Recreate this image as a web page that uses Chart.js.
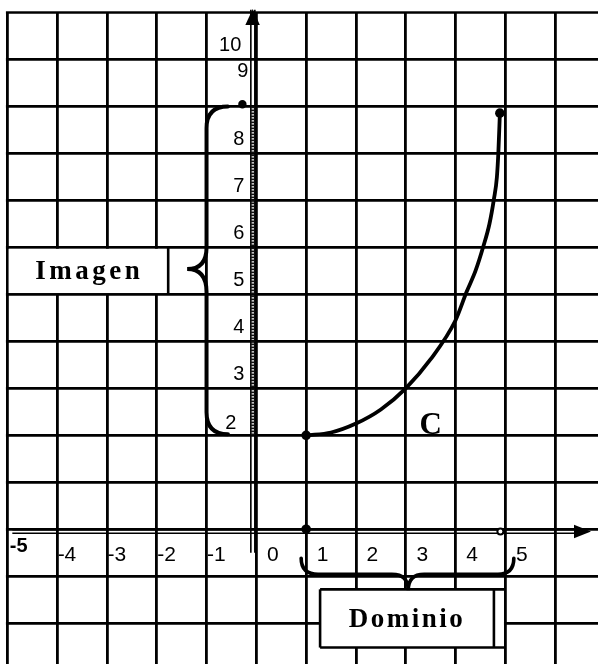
<!DOCTYPE html>
<html>
<head>
<meta charset="utf-8">
<script src="https://cdn.jsdelivr.net/npm/chart.js@4.4.0/dist/chart.umd.min.js"></script>
<style>
  html, body { margin: 0; padding: 0; background: #fff; }
  canvas { display: block; }
</style>
</head>
<body>
<canvas id="grafica" width="598" height="664"></canvas>
<script>
// curva C
var curvaX = [1, 1.5, 2, 2.5, 3, 3.5, 4, 4.22, 4.4, 4.56, 4.68, 4.77, 4.83, 4.86, 4.89];
var curvaY = [2, 2.06, 2.25, 2.55, 3.0, 3.62, 4.45, 5.05, 5.5, 6.03, 6.5, 7.03, 7.5, 8.04, 8.86];

// punto lleno sobre el eje x y marcas de los extremos
var puntoX = [1];
var puntoY = [0];
var abiertoX = [-0.28, 4.9];
var abiertoY = [9.05, -0.05];

// etiquetas de los ejes
var etiquetasX = [-5, -4, -3, -2, -1, 0, 1, 2, 3, 4, 5];
var etiquetasY = [2, 3, 4, 5, 6, 7, 8, 9, 10];

// lineas de la cuadricula
var lineasX = [-5, -4, -3, -2, -1, 0, 1, 2, 3, 4, 5, 6];
var lineasY = [-2, -1, 0, 1, 2, 3, 4, 5, 6, 7, 8, 9, 10, 11];

function puntos(xs, ys) {
  return xs.map(function (x, i) { return { x: x, y: ys[i] }; });
}

function textoEspaciado(c, txt, cx, y, esp) {
  var total = esp * (txt.length - 1);
  for (var i = 0; i < txt.length; i++) total += c.measureText(txt[i]).width;
  var x = cx - total / 2;
  c.textAlign = 'left';
  for (var j = 0; j < txt.length; j++) {
    c.fillText(txt[j], x, y);
    x += c.measureText(txt[j]).width + esp;
  }
}

function linea(c, x1, y1, x2, y2) {
  c.beginPath();
  c.moveTo(x1, y1);
  c.lineTo(x2, y2);
  c.stroke();
}

var dibujo = {
  id: 'dibujo',
  beforeDatasetsDraw: function (chart) {
    var c = chart.ctx, sx = chart.scales.x, sy = chart.scales.y;
    var X = function (v) { return sx.getPixelForValue(v); };
    var Y = function (v) { return sy.getPixelForValue(v); };
    var x0 = X(0), y0 = Y(0);
    c.save();

    // fuera de la cuadricula
    c.fillStyle = '#fff';
    c.fillRect(0, 0, chart.width, Y(11) - 1.4);
    c.fillRect(0, 0, X(-5) - 1.4, chart.height);

    // cajas de texto
    c.fillRect(X(-5) + 1.4, Y(6) + 1.4, X(-1.77) - X(-5) - 2.8, Y(5) - Y(6) - 2.8);
    c.fillRect(X(1.28), Y(-1.28), X(5) - X(1.28) - 1.4, Y(-2.52) - Y(-1.28));

    c.strokeStyle = '#000';
    c.lineWidth = 2.6;
    linea(c, X(-1.77), Y(6), X(-1.77), Y(5));
    linea(c, X(1.28), Y(-1.28), X(5), Y(-1.28));
    linea(c, X(1.28), Y(-2.52), X(5), Y(-2.52));
    linea(c, X(1.28), Y(-1.28), X(1.28), Y(-2.52));
    linea(c, X(4.77), Y(-1.28), X(4.77), Y(-2.52));

    // eje y (doble, con tramo rayado de la imagen)
    c.lineWidth = 1.6;
    linea(c, x0 - 5.5, Y(11) - 3, x0 - 5.5, Y(-0.5));
    linea(c, x0 - 1.5, Y(11) - 3, x0 - 1.5, Y(-0.5));
    c.setLineDash([1.6, 1.4]);
    c.strokeStyle = '#111';
    c.lineWidth = 3.6;
    linea(c, x0 - 3.5, Y(9), x0 - 3.5, Y(2));
    c.setLineDash([]);
    c.strokeStyle = '#000';
    c.fillStyle = '#000';
    c.beginPath();
    c.moveTo(x0 - 3.6, 9);
    c.lineTo(x0 - 11, 25);
    c.lineTo(x0 + 3.5, 25);
    c.closePath();
    c.fill();

    // eje x (doble)
    c.lineWidth = 1.7;
    linea(c, X(-5) + 5, y0 + 4, 580, y0 + 4);
    linea(c, X(-5) + 5, y0 + 0.5, 580, y0 + 0.5);
    c.beginPath();
    c.moveTo(591, y0 + 2.3);
    c.lineTo(574, y0 - 4.5);
    c.lineTo(574, y0 + 9);
    c.closePath();
    c.fill();

    // llave de la imagen
    c.lineWidth = 4;
    c.lineCap = 'round';
    var bx = X(-1);
    c.beginPath();
    c.moveTo(X(-0.57), Y(9));
    c.quadraticCurveTo(bx, Y(9), bx, Y(8.54));
    c.lineTo(bx, Y(6.0));
    c.quadraticCurveTo(bx, Y(5.54), X(-1.39), Y(5.54));
    c.quadraticCurveTo(bx, Y(5.54), bx, Y(5.05));
    c.lineTo(bx, Y(2.49));
    c.quadraticCurveTo(bx, Y(2.02), X(-0.57), Y(2.02));
    c.stroke();

    // llave del dominio
    c.lineWidth = 3.6;
    var by = Y(-0.96);
    c.beginPath();
    c.moveTo(X(0.9), Y(-0.62));
    c.quadraticCurveTo(X(0.9), by, X(1.24), by);
    c.lineTo(X(2.72), by);
    c.quadraticCurveTo(X(3.05), by, X(3.05), Y(-1.3));
    c.quadraticCurveTo(X(3.05), by, X(3.37), by);
    c.lineTo(X(4.85), by);
    c.quadraticCurveTo(X(5.17), by, X(5.17), Y(-0.62));
    c.stroke();

    // etiquetas del eje x
    c.fillStyle = '#000';
    c.textBaseline = 'middle';
    etiquetasX.forEach(function (v) {
      if (v === -5) {
        c.font = 'bold 20px "Liberation Sans", Arial, sans-serif';
        c.textAlign = 'left';
        c.fillText(String(v), X(v) + 2.5, y0 + 17);
      } else if (v < 0) {
        c.font = '21px "Liberation Sans", Arial, sans-serif';
        c.textAlign = 'left';
        c.fillText(String(v), X(v) + 0.5, y0 + 26);
      } else {
        c.font = '21px "Liberation Sans", Arial, sans-serif';
        c.textAlign = 'center';
        c.fillText(String(v), X(v) + 16.5, y0 + 26);
      }
    });

    // etiquetas del eje y
    var ajuste = { 9: [4, -21], 2: [-8, 2], 10: [-3, 0] };
    c.textAlign = 'right';
    c.font = '20px "Liberation Sans", Arial, sans-serif';
    etiquetasY.forEach(function (v) {
      var a = ajuste[v] || [0, 0];
      c.fillText(String(v), x0 - 12 + a[0], Y(v + 0.3) + a[1]);
    });

    // textos
    c.textBaseline = 'alphabetic';
    c.font = 'bold 27px "Liberation Serif", "Times New Roman", serif';
    textoEspaciado(c, 'Imagen', X(-3.39), Y(5) - 15, 3.5);
    textoEspaciado(c, 'Dominio', X(3.0), Y(-2.09), 2.5);
    c.font = 'bold 31px "Liberation Serif", "Times New Roman", serif';
    textoEspaciado(c, 'C', X(3.5), Y(2.02), 0);

    c.restore();
  }
};

var ctx = document.getElementById('grafica').getContext('2d');
var myChart = new Chart(ctx, {
  type: 'scatter',
  data: {
    datasets: [{
      label: 'C',
      data: puntos(curvaX, curvaY),
      showLine: true,
      borderColor: '#000',
      borderWidth: 3.8,
      cubicInterpolationMode: 'monotone',
      pointBackgroundColor: '#000',
      pointBorderWidth: 0,
      pointRadius: function (p) {
        return (p.dataIndex === 0 || p.dataIndex === curvaX.length - 1) ? 4.8 : 0;
      }
    }, {
      label: 'punto',
      data: puntos(puntoX, puntoY),
      pointBackgroundColor: '#000',
      pointBorderWidth: 0,
      pointRadius: 4.8
    }, {
      label: 'extremos',
      data: puntos(abiertoX, abiertoY),
      pointBackgroundColor: ['#000', '#fff'],
      pointBorderColor: '#000',
      pointBorderWidth: 2,
      pointRadius: [3.2, 3]
    }]
  },
  options: {
    responsive: false,
    animation: false,
    events: [],
    layout: { padding: 0, autoPadding: false },
    plugins: {
      legend: { display: false },
      tooltip: { enabled: false }
    },
    scales: {
      x: {
        type: 'linear',
        min: -5.147,
        max: 6.86,
        afterBuildTicks: function (axis) {
          axis.ticks = lineasX.map(function (v) { return { value: v }; });
        },
        ticks: { display: false },
        border: { display: false },
        grid: { color: '#000', lineWidth: 2.8, drawTicks: false }
      },
      y: {
        type: 'linear',
        min: -2.87,
        max: 11.27,
        afterBuildTicks: function (axis) {
          axis.ticks = lineasY.map(function (v) { return { value: v }; });
        },
        ticks: { display: false },
        border: { display: false },
        grid: { color: '#000', lineWidth: 2.8, drawTicks: false }
      }
    }
  },
  plugins: [dibujo]
});
</script>
</body>
</html>
